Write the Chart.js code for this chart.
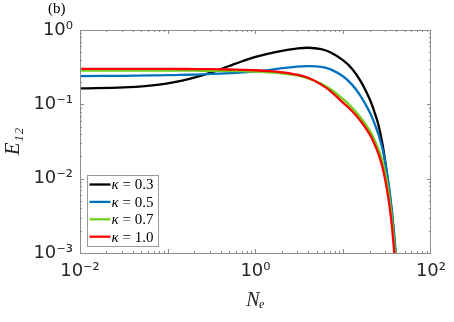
<!DOCTYPE html>
<html>
<head>
<meta charset="utf-8">
<script src="https://cdn.jsdelivr.net/npm/chart.js@4/dist/chart.umd.min.js"></script>
<style>
  html, body { margin: 0; padding: 0; background: #fff; }
  #wrap { width: 454px; height: 322px; position: relative; }
</style>
</head>
<body>
<div id="wrap"><canvas id="c" width="454" height="322"></canvas></div>
<script>
// ---- data ----
const Ne = [0.01, 0.0316, 0.0631, 0.1, 0.141, 0.2, 0.316, 0.501, 0.708, 1, 1.41, 2, 2.82, 3.98, 5.62, 7.2, 10, 12.6, 15.8, 20, 22.4, 25.1, 28.2, 31.6, 33.9, 35.9, 37.6, 38.9, 40.7];
const kappaLabels = ['κ = 0.3', 'κ = 0.5', 'κ = 0.7', 'κ = 1.0'];
const E12_k03 = [0.164, 0.169, 0.179, 0.191, 0.2065, 0.228, 0.269, 0.328, 0.380, 0.4345, 0.4825, 0.5255, 0.5585, 0.577, 0.551, 0.497, 0.391, 0.302, 0.205, 0.118, 0.0826, 0.054, 0.0282, 0.0112, 0.00603, 0.00331, 0.00191, 0.0012, 0.00056];
const E12_k05 = [0.240, 0.242, 0.2445, 0.2467, 0.2488, 0.2514, 0.2561, 0.2623, 0.2685, 0.2768, 0.2895, 0.306, 0.320, 0.3267, 0.3199, 0.2953, 0.2366, 0.1841, 0.1294, 0.0789, 0.0578, 0.0400, 0.0244, 0.01189, 0.00661, 0.00368, 0.00216, 0.00136, 0.000668];
const E12_k07 = [0.284, 0.284, 0.284, 0.284, 0.284, 0.2835, 0.2825, 0.281, 0.279, 0.2758, 0.2702, 0.261, 0.2465, 0.223, 0.1892, 0.1596, 0.1178, 0.0908, 0.0665, 0.0445, 0.0345, 0.0253, 0.0167, 0.00902, 0.00513, 0.00288, 0.00166, 0.0010, 0.000447];
const E12_k10 = [0.300, 0.2996, 0.2995, 0.2992, 0.2988, 0.2982, 0.2968, 0.2944, 0.2916, 0.2874, 0.2805, 0.270, 0.2537, 0.2276, 0.1841, 0.1496, 0.1047, 0.0813, 0.0596, 0.0398, 0.0305, 0.0219, 0.0138, 0.00708, 0.00407, 0.00229, 0.00126, 0.000724, 0.000282];
const xTickValues = [1e-2, 1e0, 1e2];
const yTickValues = [1e-3, 1e-2, 1e-1, 1e0];

const seriesValues = [E12_k03, E12_k05, E12_k07, E12_k10];
const seriesColors = ['#000000', '#0072BD', '#6CD41E', '#FF0000'];
const seriesOrder = [3, 2, 1, 0];

function supLabel(v) {
  const e = Math.round(Math.log10(v));
  const map = {'-': '⁻', '0': '⁰', '1': '¹', '2': '²', '3': '³', '4': '⁴'};
  return '10' + String(e).split('').map(c => map[c]).join('');
}

const datasets = seriesValues.map((vals, i) => ({
  label: kappaLabels[i],
  data: Ne.map((x, j) => ({x: x, y: vals[j]})),
  borderColor: seriesColors[i],
  backgroundColor: seriesColors[i],
  borderWidth: 2.3,
  pointRadius: 0,
  tension: 0.4,
  fill: false,
  order: seriesOrder[i]
}));

const boxPlugin = {
  id: 'boxTicks',
  afterDatasetsDraw(chart) {
    const {ctx, chartArea: a, scales: {x, y}} = chart;
    ctx.save();
    ctx.strokeStyle = '#8c8c8c';
    ctx.lineWidth = 1;
    ctx.beginPath();
    for (let d = -2; d < 2; d++) {
      for (let m = 1; m <= 9; m++) {
        const v = m * Math.pow(10, d);
        const px = Math.round(x.getPixelForValue(v)) + 0.5;
        const len = m === 1 ? 4 : 2;
        ctx.moveTo(px, a.bottom); ctx.lineTo(px, a.bottom - len);
        ctx.moveTo(px, a.top); ctx.lineTo(px, a.top + len);
      }
    }
    for (let d = -3; d < 0; d++) {
      for (let m = 1; m <= 9; m++) {
        const v = m * Math.pow(10, d);
        const py = Math.round(y.getPixelForValue(v)) + 0.5;
        const len = m === 1 ? 4 : 2;
        ctx.moveTo(a.left, py); ctx.lineTo(a.left + len, py);
        ctx.moveTo(a.right, py); ctx.lineTo(a.right - len, py);
      }
    }
    ctx.stroke();
    ctx.strokeRect(Math.round(a.left) + 0.5, Math.round(a.top) + 0.5,
                   Math.round(a.right - a.left) - 1, Math.round(a.bottom - a.top));
    ctx.restore();
  },
  afterDraw(chart) {
    const ctx = chart.ctx;
    const a = chart.chartArea;
    ctx.save();
    // panel label
    ctx.fillStyle = '#000';
    ctx.font = '15px "Liberation Serif", serif';
    ctx.textBaseline = 'alphabetic';
    ctx.fillText('(b)', 48, 13);
    // legend box
    const lx = a.left + 7.5, ly = a.bottom - 77.5, lw = 71, lh = 71;
    ctx.fillStyle = '#fff';
    ctx.fillRect(lx, ly, lw, lh);
    ctx.strokeStyle = '#9a9a9a';
    ctx.lineWidth = 1;
    ctx.strokeRect(lx, ly, lw, lh);
    chart.data.datasets.forEach((ds, i) => {
      const rowY = ly + 9 + i * 17.4;
      ctx.strokeStyle = ds.borderColor;
      ctx.lineWidth = 2.3;
      ctx.beginPath();
      ctx.moveTo(lx + 2, rowY);
      ctx.lineTo(lx + 23, rowY);
      ctx.stroke();
      ctx.fillStyle = '#000';
      ctx.textBaseline = 'middle';
      const parts = ds.label.split(' ');
      ctx.font = 'italic 15px "Liberation Serif", serif';
      ctx.fillText(parts[0], lx + 24, rowY + 1);
      const w = ctx.measureText(parts[0]).width;
      ctx.font = '15px "Liberation Serif", serif';
      ctx.fillText(' ' + parts.slice(1).join(' '), lx + 24 + w, rowY + 1);
    });
    ctx.restore();
  }
};

new Chart(document.getElementById('c'), {
  type: 'line',
  data: { datasets: datasets },
  options: {
    responsive: false,
    animation: false,
    layout: { padding: { top: 30, right: 20, left: 0, bottom: 0 } },
    plugins: { legend: { display: false }, tooltip: { enabled: false } },
    scales: {
      x: {
        type: 'logarithmic',
        min: 0.01, max: 100,
        grid: { display: false, drawTicks: false },
        border: { display: false },
        afterBuildTicks: s => { s.ticks = xTickValues.map(v => ({value: v})); },
        afterFit: s => { s.height = 69; },
        ticks: {
          autoSkip: false, maxRotation: 0, padding: 8,
          color: '#262626',
          font: { family: '"DejaVu Sans", sans-serif', size: 18 },
          callback: v => supLabel(v)
        },
        title: {
          display: true, text: 'Nₑ',
          color: '#262626',
          font: { family: '"Liberation Serif", "DejaVu Serif", serif', size: 20, style: 'italic' },
          padding: { top: 0, bottom: 9 }
        }
      },
      y: {
        type: 'logarithmic',
        min: 0.001, max: 1,
        grid: { display: false, drawTicks: false },
        border: { display: false },
        afterBuildTicks: s => { s.ticks = yTickValues.map(v => ({value: v})); },
        afterFit: s => { s.width = 80; },
        ticks: {
          autoSkip: false, padding: 7,
          color: '#262626',
          font: { family: '"DejaVu Sans", sans-serif', size: 18 },
          callback: v => supLabel(v)
        },
        title: {
          display: true, text: 'E₁₂',
          color: '#262626',
          font: { family: '"Liberation Serif", "DejaVu Serif", serif', size: 21, style: 'italic' },
          padding: { top: 1, bottom: 0 }
        }
      }
    }
  },
  plugins: [boxPlugin]
});
</script>
</body>
</html>
